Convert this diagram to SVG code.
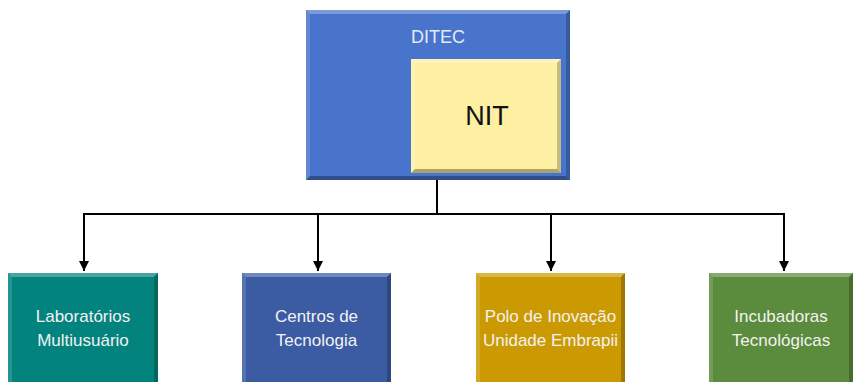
<svg xmlns="http://www.w3.org/2000/svg" width="855" height="382" viewBox="0 0 855 382">
<style>
.lt{fill:#ffffff;fill-opacity:0.28}
.ls{fill:#ffffff;fill-opacity:0.14}
.dk{fill:#000000;fill-opacity:0.22}
.db{fill:#000000;fill-opacity:0.32}
.lbl{font-family:"Liberation Sans",Arial,sans-serif;font-size:17px;fill:#f2f2f2;text-anchor:middle}
.conn{stroke:#000;stroke-width:2;fill:none}
</style>
<defs>
<marker id="arr" viewBox="0 0 10 10" refX="10" refY="5" markerWidth="10" markerHeight="10" markerUnits="userSpaceOnUse" orient="auto">
<path d="M0,0 L10,5 L0,10 z" fill="#000"/>
</marker>
</defs>
<rect width="855" height="382" fill="#ffffff"/>
<g id="connectors">
<path class="conn" d="M437,180 V214"/>
<path class="conn" d="M84,214 H784"/>
<path class="conn" d="M84,213 V271" marker-end="url(#arr)"/>
<path class="conn" d="M318,214 V271" marker-end="url(#arr)"/>
<path class="conn" d="M551,214 V271" marker-end="url(#arr)"/>
<path class="conn" d="M784,213 V271" marker-end="url(#arr)"/>
</g>
<g id="ditec">
<rect x="306" y="10" width="264" height="170" fill="#4874cc"/>
<polygon class="lt" points="306,10 570,10 566,14 310,14"/>
<polygon class="ls" points="306,10 310,14 310,176 306,180"/>
<polygon class="dk" points="570,10 570,180 566,176 566,14"/>
<polygon class="db" points="306,180 570,180 566,176 310,176"/>
<text x="438" y="43" font-family="'Liberation Sans',Arial,sans-serif" font-size="18" fill="#e4eaf7" text-anchor="middle">DITEC</text>
</g>
<g id="nit">
<rect x="411" y="59" width="150" height="114" fill="#fdf0a3"/>
<polygon class="lt" points="411,59 561,59 557,63 415,63"/>
<polygon class="ls" points="411,59 415,63 415,169 411,173"/>
<polygon class="dk" points="561,59 561,173 557,169 557,63"/>
<polygon class="db" points="411,173 561,173 557,169 415,169"/>
<text x="487" y="125" font-family="'Liberation Sans',Arial,sans-serif" font-size="27" fill="#111111" text-anchor="middle">NIT</text>
</g>
<g id="laboratorios">
<rect x="8" y="273" width="150" height="115" fill="#03837e"/>
<polygon class="lt" points="8,273 158,273 154,277 12,277"/>
<polygon class="ls" points="8,273 12,277 12,388 8,388"/>
<polygon class="dk" points="158,273 158,388 154,388 154,277"/>
<text class="lbl" x="83" y="322">Laboratórios</text>
<text class="lbl" x="83" y="346">Multiusuário</text>
</g>
<g id="centros">
<rect x="242" y="273" width="149" height="115" fill="#3b5ba3"/>
<polygon class="lt" points="242,273 391,273 387,277 246,277"/>
<polygon class="ls" points="242,273 246,277 246,388 242,388"/>
<polygon class="dk" points="391,273 391,388 387,388 387,277"/>
<text class="lbl" x="316.5" y="322">Centros de</text>
<text class="lbl" x="316.5" y="346">Tecnologia</text>
</g>
<g id="polo">
<rect x="476" y="273" width="149" height="115" fill="#cb9a02"/>
<polygon class="lt" points="476,273 625,273 621,277 480,277"/>
<polygon class="ls" points="476,273 480,277 480,388 476,388"/>
<polygon class="dk" points="625,273 625,388 621,388 621,277"/>
<text class="lbl" x="550.5" y="322">Polo de Inovação</text>
<text class="lbl" x="550.5" y="346">Unidade Embrapii</text>
</g>
<g id="incubadoras">
<rect x="709" y="273" width="144" height="115" fill="#5b8b3c"/>
<polygon class="lt" points="709,273 853,273 849,277 713,277"/>
<polygon class="ls" points="709,273 713,277 713,388 709,388"/>
<polygon class="dk" points="853,273 853,388 849,388 849,277"/>
<text class="lbl" x="781" y="322">Incubadoras</text>
<text class="lbl" x="781" y="346">Tecnológicas</text>
</g>
</svg>
